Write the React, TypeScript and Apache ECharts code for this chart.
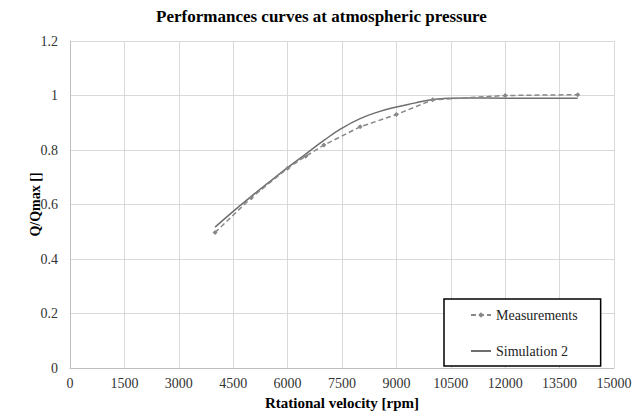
import React, { useEffect, useRef } from "react";
import * as echarts from "echarts";

const xTicks = [0, 1500, 3000, 4500, 6000, 7500, 9000, 10500, 12000, 13500, 15000];
const measRpm = [4000, 5000, 6000, 6500, 7000, 8000, 9000, 10000, 12000, 14000];
const measVal = [0.497, 0.625, 0.733, 0.777, 0.818, 0.885, 0.93, 0.984, 1.0, 1.003];
const simRpm = [4000, 4500, 5000, 5500, 6000, 6500, 7000, 7500, 8000, 8500, 9000, 9500, 10000, 10500, 11000, 12000, 13000, 14000];
const simVal = [0.517, 0.575, 0.63, 0.683, 0.735, 0.785, 0.835, 0.88, 0.915, 0.94, 0.958, 0.972, 0.985, 0.99, 0.991, 0.99, 0.99, 0.99];

const FONT = "'Liberation Serif', 'Times New Roman', serif";

export default function App() {
  const ref = useRef<HTMLDivElement>(null);
  useEffect(() => {
    if (!ref.current) return;
    const chart = echarts.init(ref.current, null, { renderer: "svg" });
    chart.setOption({
      animation: false,
      backgroundColor: "#ffffff",
      textStyle: { fontFamily: FONT },
      title: {
        text: "Performances curves at atmospheric pressure",
        left: "center",
        top: 3,
        padding: [5, 5, 5, 25],
        textStyle: { fontFamily: FONT, fontSize: 17, fontWeight: "bold", color: "#000" },
      },
      legend: {
        orient: "vertical",
        left: 444,
        top: 299,
        backgroundColor: "#fff",
        borderColor: "#000",
        borderWidth: 1.5,
        borderRadius: 0,
        padding: [9, 23, 8, 26],
        itemGap: 22,
        itemWidth: 20,
        itemHeight: 7,
        textStyle: { fontFamily: FONT, fontSize: 14, color: "#222" },
        data: [
          { name: "Measurements" },
          { name: "Simulation 2", itemStyle: { opacity: 0 } },
        ],
      },
      grid: { left: 70, right: 29, top: 41, bottom: 51, containLabel: false },
      xAxis: {
        type: "value",
        min: 0,
        max: 15000,
        interval: 1500,
        name: "Rtational velocity [rpm]",
        nameLocation: "middle",
        nameGap: 27,
        nameMoveOverlap: false,
        nameTextStyle: { fontFamily: FONT, fontSize: 15, fontWeight: "bold", color: "#000" },
        axisLine: { show: true, lineStyle: { color: "#bfbfbf", width: 1 } },
        axisTick: { show: false },
        axisLabel: {
          margin: 8,
          fontFamily: FONT,
          fontSize: 14,
          color: "#333",
          formatter: (v: number) => (xTicks.indexOf(v) >= 0 ? String(v) : ""),
        },
        splitLine: { show: true, lineStyle: { color: "#d9d9d9", width: 1 } },
      },
      yAxis: {
        type: "value",
        min: 0,
        max: 1.2,
        interval: 0.2,
        name: "Q/Qmax []",
        nameLocation: "middle",
        nameGap: 28,
        nameMoveOverlap: false,
        nameTextStyle: { fontFamily: FONT, fontSize: 14, fontWeight: "bold", color: "#000" },
        axisLine: { show: true, lineStyle: { color: "#bfbfbf", width: 1 } },
        axisTick: { show: false },
        axisLabel: { margin: 12, fontFamily: FONT, fontSize: 14, color: "#333" },
        splitLine: { show: true, lineStyle: { color: "#d9d9d9", width: 1 } },
      },
      series: [
        {
          name: "Measurements",
          type: "line",
          data: measRpm.map((x, i) => [x, measVal[i]]),
          symbol: "diamond",
          symbolSize: 5,
          showSymbol: true,
          itemStyle: { color: "#888888" },
          lineStyle: { color: "#888888", width: 1.5, type: [5, 3] },
          z: 3,
        },
        {
          name: "Simulation 2",
          type: "line",
          data: simRpm.map((x, i) => [x, simVal[i]]),
          smooth: true,
          symbol: "none",
          itemStyle: { color: "#6e6e6e" },
          lineStyle: { color: "#6e6e6e", width: 1.5 },
          z: 2,
        },
      ],
    });
    return () => chart.dispose();
  }, []);
  return (
    <div
      ref={ref}
      style={{ position: "fixed", left: 0, top: 0, width: 643, height: 419 }}
    />
  );
}
